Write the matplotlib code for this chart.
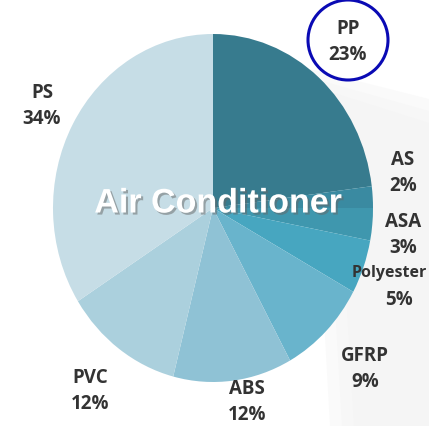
import matplotlib.pyplot as plt
import matplotlib.patheffects as pe
from matplotlib.patches import Ellipse, Polygon

materials = ["PP", "AS", "ASA", "Polyester", "GFRP", "ABS", "PVC", "PS"]
shares = [23, 2, 3, 5, 9, 12, 12, 34]
colors = ["#377b8e", "#3a8aa1", "#3f97ae", "#47a6c0", "#69b4cc", "#8fc2d5", "#abd0dd", "#c6dde6"]
label_xy = [(348, 42), (403, 173), (403, 235), (399, 287), (365, 369), (247, 402), (90, 391), (42, 106)]
title = "Air Conditioner"

W, H = 429, 427
fig = plt.figure(figsize=(W / 100, H / 100), dpi=100)

# background layer in pixel coordinates, soft grey band on the right
bg = fig.add_axes([0, 0, 1, 1])
bg.set_xlim(0, W)
bg.set_ylim(H, 0)
bg.axis("off")
for i, shade in enumerate(["#fafafa", "#f7f7f7", "#f5f5f5"]):
    d = 12 * i
    bg.add_patch(Polygon([(310 + d, 70 + d), (429, 100 + d), (429, 427), (330 + d, 427)],
                         closed=True, facecolor=shade, edgecolor="none"))

# pie stretched a little taller than wide
cx, cy, rx, ry = 213, 209, 160, 174
pie_ax = fig.add_axes([(cx - rx) / W, 1 - (cy + ry) / H, 2 * rx / W, 2 * ry / H])
pie_ax.pie(shares, colors=colors, startangle=90, counterclock=False,
           wedgeprops=dict(linewidth=0))
pie_ax.set_aspect("auto")
pie_ax.set_xlim(-1, 1)
pie_ax.set_ylim(-1, 1)
pie_ax.axis("off")

# labels on top: name line and percent line
top = fig.add_axes([0, 0, 1, 1])
top.set_xlim(0, W)
top.set_ylim(H, 0)
top.axis("off")
style = dict(ha="center", va="center", fontweight="bold", color="#333333", family="Open Sans")
for name, val, (x, y) in zip(materials, shares, label_xy):
    if name == "Polyester":
        top.text(W - 2, y - 14, name, fontsize=11.5, **{**style, "ha": "right"})
    else:
        top.text(x, y - 13, name, fontsize=13.5, **style)
    top.text(x, y + 13, f"{val}%", fontsize=13.5, **style)
top.add_patch(Ellipse((348, 41), 80, 80, facecolor="none", edgecolor="#0a0ab4", linewidth=2.2))

top.text(218, 205, title, ha="center", va="center", fontsize=24.5, fontweight="bold",
         color="white", family="Liberation Sans",
         path_effects=[pe.SimplePatchShadow(offset=(1.5, -1.5), shadow_rgbFace="#666666", alpha=0.5),
                       pe.Normal()])

fig.savefig("out.png", dpi=100)
